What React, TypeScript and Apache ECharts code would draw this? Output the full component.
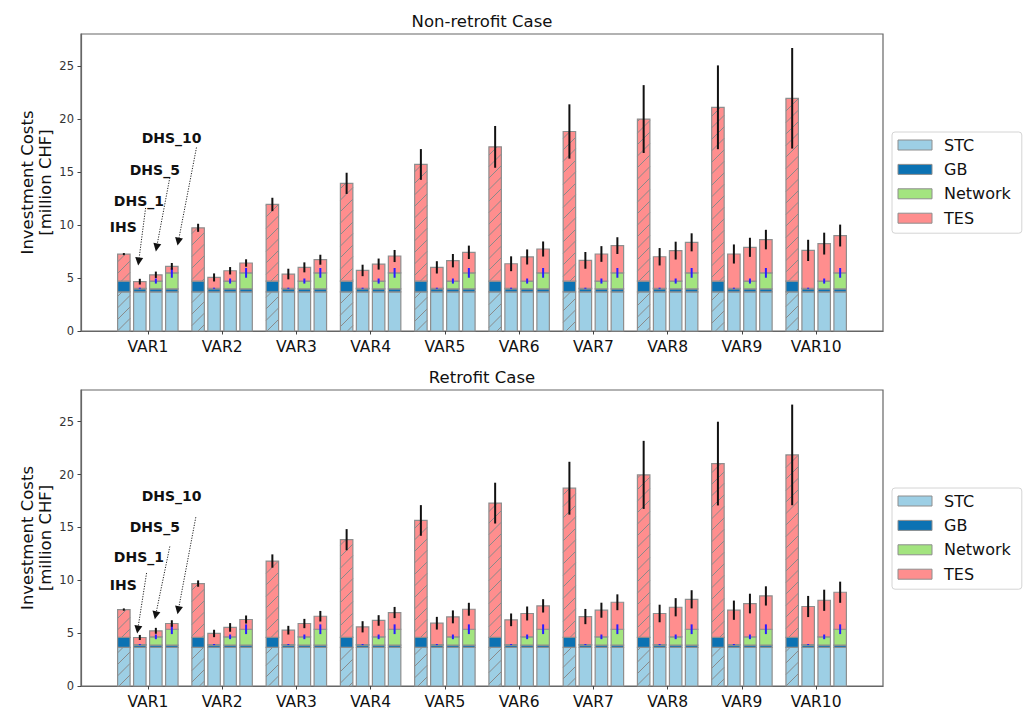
import React, { useEffect, useRef } from 'react';
import * as echarts from 'echarts';

// ---- categories and bar types ----
const categories = ['VAR1', 'VAR2', 'VAR3', 'VAR4', 'VAR5', 'VAR6', 'VAR7', 'VAR8', 'VAR9', 'VAR10'];
const barTypes = ['IHS', 'DHS_1', 'DHS_5', 'DHS_10'];
const components = ['STC', 'GB', 'Network', 'TES'];
const yTicks = [0, 5, 10, 15, 20, 25];

// ---- Non-retrofit case (million CHF) ----
// fixed parts per bar type: IHS, DHS_1, DHS_5, DHS_10
const stcNonRetrofit = [3.68, 3.68, 3.68, 3.68];
const gbNonRetrofit = [1.02, 0.3, 0.3, 0.3];
const networkNonRetrofit = [0, 0.05, 0.73, 1.5];
const networkErrNonRetrofit = [0, 0.05, 0.24, 0.46];
// TES per variant
const tesNonRetrofitIHS = [2.55, 5.03, 7.23, 9.22, 11.0, 12.66, 14.11, 15.28, 16.39, 17.24];
const tesNonRetrofitDHS1 = [0.62, 1.02, 1.34, 1.68, 1.97, 2.31, 2.63, 2.97, 3.23, 3.57];
const tesNonRetrofitDHS5 = [0.59, 0.97, 1.29, 1.6, 1.92, 2.27, 2.55, 2.87, 3.18, 3.53];
const tesNonRetrofitDHS10 = [0.61, 0.93, 1.24, 1.59, 1.94, 2.25, 2.57, 2.88, 3.14, 3.52];
// total cost uncertainty per variant
const errNonRetrofitIHS = [0.1, 0.38, 0.63, 1.0, 1.45, 1.97, 2.56, 3.2, 3.95, 4.74];
const errNonRetrofitDHS1 = [0.27, 0.38, 0.5, 0.54, 0.58, 0.7, 0.79, 0.82, 0.9, 1.0];
const errNonRetrofitDHS5 = [0.3, 0.35, 0.47, 0.52, 0.63, 0.71, 0.74, 0.84, 0.9, 1.03];
const errNonRetrofitDHS10 = [0.32, 0.35, 0.47, 0.57, 0.63, 0.71, 0.79, 0.85, 0.92, 1.03];

// ---- Retrofit case (million CHF) ----
const stcRetrofit = [3.65, 3.65, 3.65, 3.65];
const gbRetrofit = [0.95, 0.22, 0.22, 0.22];
const networkRetrofit = [0, 0.05, 0.78, 1.5];
const networkErrRetrofit = [0, 0.05, 0.22, 0.46];
const tesRetrofitIHS = [2.63, 5.09, 7.22, 9.24, 11.06, 12.7, 14.11, 15.37, 16.44, 17.26];
const tesRetrofitDHS1 = [0.67, 1.05, 1.36, 1.68, 2.02, 2.34, 2.65, 2.94, 3.25, 3.6];
const tesRetrofitDHS5 = [0.57, 0.89, 1.26, 1.55, 1.89, 2.21, 2.52, 2.8, 3.15, 3.46];
const tesRetrofitDHS10 = [0.54, 0.92, 1.23, 1.58, 1.89, 2.21, 2.55, 2.83, 3.15, 3.5];
const errRetrofitIHS = [0.11, 0.3, 0.63, 1.0, 1.45, 1.93, 2.5, 3.22, 3.96, 4.76];
const errRetrofitDHS1 = [0.24, 0.35, 0.41, 0.53, 0.6, 0.6, 0.72, 0.83, 0.91, 1.0];
const errRetrofitDHS5 = [0.28, 0.41, 0.44, 0.5, 0.61, 0.66, 0.71, 0.86, 0.93, 1.0];
const errRetrofitDHS10 = [0.31, 0.38, 0.5, 0.53, 0.61, 0.63, 0.75, 0.86, 0.91, 1.0];

// ---- annotation anchors: [textX, textY, arrowStartX, arrowStartY, tipX, tipY, hasArrow] ----
const annotationLabels = ['IHS', 'DHS_1', 'DHS_5', 'DHS_10'];
const annotationsNonRetrofit = [
  [-0.33, 9.8, 0, 0, 0, 0, 0],
  [-0.12, 12.3, -0.03, 11.6, -0.13, 6.18, 1],
  [0.094, 15.15, 0.296, 14.46, 0.108, 7.5, 1],
  [0.32, 18.2, 0.655, 17.3, 0.4, 8.05, 1],
];
const annotationsRetrofit = [
  [-0.33, 9.6, 0, 0, 0, 0, 0],
  [-0.12, 12.2, -0.017, 10.69, -0.144, 4.97, 1],
  [0.094, 15.0, 0.296, 13.2, 0.094, 6.32, 1],
  [0.32, 18.0, 0.646, 15.97, 0.4, 6.79, 1],
];

// ---- layout & style ----
const FONT = 'DejaVu Sans';
const BAR_OFFSETS = [-0.323, -0.108, 0.108, 0.323];
const BAR_WIDTH = 0.168;
const COLORS: Record<string, string> = {
  STC: '#9dcfe5',
  GB: '#0b72b3',
  Network: '#a3e47f',
  TES: '#ff8e8e',
};
const EDGE_COLOR = '#8e8e8e';
const HATCH_COLOR = '#8a8a8a';
const HATCH_STEP = 11.5;
const ERR_COLOR = '#111111';
const NET_ERR_COLOR = '#2b1cff';
const FRAME_COLOR = '#666666';

const GRIDS = [
  { left: 81, top: 34, width: 802, height: 297 },
  { left: 81, top: 390, width: 802, height: 296 },
];

type CaseData = {
  stc: number[];
  gb: number[];
  net: number[];
  netErr: number[];
  tes: number[][];
  err: number[][];
};

const cases: CaseData[] = [
  {
    stc: stcNonRetrofit,
    gb: gbNonRetrofit,
    net: networkNonRetrofit,
    netErr: networkErrNonRetrofit,
    tes: [tesNonRetrofitIHS, tesNonRetrofitDHS1, tesNonRetrofitDHS5, tesNonRetrofitDHS10],
    err: [errNonRetrofitIHS, errNonRetrofitDHS1, errNonRetrofitDHS5, errNonRetrofitDHS10],
  },
  {
    stc: stcRetrofit,
    gb: gbRetrofit,
    net: networkRetrofit,
    netErr: networkErrRetrofit,
    tes: [tesRetrofitIHS, tesRetrofitDHS1, tesRetrofitDHS5, tesRetrofitDHS10],
    err: [errRetrofitIHS, errRetrofitDHS1, errRetrofitDHS5, errRetrofitDHS10],
  },
];

// stacked segments [x, bottom, top, hatched] per component, plus error bars [x, centre, err, kind]
function buildStacks(d: CaseData) {
  const segs: Record<string, number[][]> = { STC: [], GB: [], Network: [], TES: [] };
  const errs: number[][] = [];
  categories.forEach((_, i) => {
    barTypes.forEach((_, t) => {
      const x = i + BAR_OFFSETS[t];
      const hatched = t === 0 ? 1 : 0;
      const s = d.stc[t];
      const g = s + d.gb[t];
      const n = g + d.net[t];
      const total = n + d.tes[t][i];
      segs.STC.push([x, 0, s, hatched]);
      segs.GB.push([x, s, g, 0]);
      segs.Network.push([x, g, n, hatched]);
      segs.TES.push([x, n, total, hatched]);
      if (d.netErr[t] > 0) errs.push([x, n, d.netErr[t], 1]);
      errs.push([x, total, d.err[t][i], 0]);
    });
  });
  return { segs, errs };
}

const renderSegment = (_params: any, api: any) => {
  const x = api.value(0);
  const y0 = api.value(1);
  const y1 = api.value(2);
  const hatched = api.value(3);
  if (!(y1 > y0)) return null;
  const tl = api.coord([x - BAR_WIDTH / 2, y1]);
  const br = api.coord([x + BAR_WIDTH / 2, y0]);
  const shape = { x: tl[0], y: tl[1], width: br[0] - tl[0], height: br[1] - tl[1] };
  const children: any[] = [{ type: 'rect', shape, style: { fill: api.visual('color') } }];
  if (hatched) {
    const x0 = shape.x;
    const x1 = shape.x + shape.width;
    const yt = shape.y;
    const yb = shape.y + shape.height;
    for (let c = Math.ceil((x0 + yt) / HATCH_STEP) * HATCH_STEP; c < x1 + yb; c += HATCH_STEP) {
      const xa = Math.max(x0, c - yb);
      const xb = Math.min(x1, c - yt);
      if (xb - xa > 0.4) {
        children.push({
          type: 'line',
          shape: { x1: xa, y1: c - xa, x2: xb, y2: c - xb },
          style: { stroke: HATCH_COLOR, lineWidth: 1 },
        });
      }
    }
  }
  children.push({ type: 'rect', shape, style: { fill: 'none', stroke: EDGE_COLOR, lineWidth: 1.2 } });
  return { type: 'group', children };
};

const renderError = (_params: any, api: any) => {
  const x = api.value(0);
  const c = api.value(1);
  const e = api.value(2);
  const kind = api.value(3);
  if (!(e > 0)) return null;
  const a = api.coord([x, c - e]);
  const b = api.coord([x, c + e]);
  return {
    type: 'line',
    shape: { x1: a[0], y1: a[1], x2: b[0], y2: b[1] },
    style: { stroke: kind ? NET_ERR_COLOR : ERR_COLOR, lineWidth: 2 },
  };
};

const renderAnnotation = (params: any, api: any) => {
  const label = annotationLabels[params.dataIndex];
  const tp = api.coord([api.value(0), api.value(1)]);
  const children: any[] = [
    {
      type: 'text',
      x: tp[0],
      y: tp[1],
      style: {
        text: label,
        align: 'center',
        verticalAlign: 'middle',
        fontFamily: FONT,
        fontSize: 14,
        fontWeight: 'bold',
        fill: '#111',
      },
    },
  ];
  if (api.value(6)) {
    const s = api.coord([api.value(2), api.value(3)]);
    const t = api.coord([api.value(4), api.value(5)]);
    const dx = t[0] - s[0];
    const dy = t[1] - s[1];
    const len = Math.sqrt(dx * dx + dy * dy);
    const ux = dx / len;
    const uy = dy / len;
    const headLen = 8;
    const half = 4;
    const bx = t[0] - ux * headLen;
    const by = t[1] - uy * headLen;
    children.push({
      type: 'line',
      shape: { x1: s[0], y1: s[1], x2: bx, y2: by },
      style: { stroke: '#222', lineWidth: 1, lineDash: [1.2, 1.4] },
    });
    children.push({
      type: 'polygon',
      shape: {
        points: [
          [t[0], t[1]],
          [bx - uy * half, by + ux * half],
          [bx + uy * half, by - ux * half],
        ],
      },
      style: { fill: '#111' },
    });
  }
  return { type: 'group', children };
};

function buildOption() {
  const xAxis: any[] = [];
  const yAxis: any[] = [];
  const series: any[] = [];
  const legend: any[] = [];
  const tickIdx = categories.map((_, i) => i);

  GRIDS.forEach((g, k) => {
    xAxis.push({
      type: 'value',
      gridIndex: k,
      min: -0.9,
      max: 9.9,
      axisLine: { show: true, onZero: false, lineStyle: { color: FRAME_COLOR, width: 1.2 } },
      axisTick: { show: true, customValues: tickIdx, length: 3.5, lineStyle: { color: '#444', width: 1 } },
      axisLabel: {
        show: true,
        customValues: tickIdx,
        formatter: (v: number) => categories[Math.round(v)] ?? '',
        fontFamily: FONT,
        fontSize: 15.5,
        color: '#111',
        margin: 8,
      },
      splitLine: { show: false },
    });
    yAxis.push({
      type: 'value',
      gridIndex: k,
      min: 0,
      max: 28,
      axisLine: { show: true, onZero: false, lineStyle: { color: FRAME_COLOR, width: 1.2 } },
      axisTick: { show: true, customValues: yTicks, length: 3.5, lineStyle: { color: '#444', width: 1 } },
      axisLabel: {
        show: true,
        customValues: yTicks,
        fontFamily: FONT,
        fontSize: 11.5,
        color: '#333',
        margin: 7,
      },
      splitLine: { show: false },
    });

    const { segs, errs } = buildStacks(cases[k]);
    components.forEach((name) => {
      series.push({
        type: 'custom',
        name,
        xAxisIndex: k,
        yAxisIndex: k,
        itemStyle: { color: COLORS[name] },
        renderItem: renderSegment,
        data: segs[name],
        silent: true,
      });
    });
    series.push({
      type: 'custom',
      name: 'errors',
      xAxisIndex: k,
      yAxisIndex: k,
      renderItem: renderError,
      data: errs,
      silent: true,
      z: 3,
    });
    series.push({
      type: 'custom',
      name: 'annotations',
      xAxisIndex: k,
      yAxisIndex: k,
      renderItem: renderAnnotation,
      data: k === 0 ? annotationsNonRetrofit : annotationsRetrofit,
      silent: true,
      clip: false,
      z: 4,
    });

    legend.push({
      data: components,
      orient: 'vertical',
      left: 892,
      top: g.top + 98,
      icon: 'rect',
      itemWidth: 34,
      itemHeight: 10,
      itemGap: 8.4,
      padding: [5, 11, 7, 5.5],
      borderColor: '#d4d4d4',
      borderWidth: 1,
      borderRadius: 3,
      selectedMode: false,
      itemStyle: { borderColor: EDGE_COLOR, borderWidth: 1 },
      textStyle: { fontFamily: FONT, fontSize: 16, color: '#111', lineHeight: 16, padding: [0, 0, 0, 7] },
    });
  });

  const titleY = [21, 377];
  const graphic: any[] = [];
  ['Non-retrofit Case', 'Retrofit Case'].forEach((t, k) => {
    const g = GRIDS[k];
    graphic.push({
      type: 'text',
      x: g.left + g.width / 2,
      y: titleY[k],
      style: { text: t, align: 'center', verticalAlign: 'middle', fontFamily: FONT, fontSize: 16.5, fill: '#111' },
    });
    graphic.push({
      type: 'text',
      x: 36.5,
      y: g.top + g.height / 2,
      rotation: Math.PI / 2,
      style: {
        text: 'Investment Costs\n[million CHF]',
        align: 'center',
        verticalAlign: 'middle',
        fontFamily: FONT,
        fontSize: 16.5,
        lineHeight: 18.5,
        fill: '#111',
      },
    });
  });

  return {
    animation: false,
    backgroundColor: '#ffffff',
    grid: GRIDS.map((g) => ({
      ...g,
      show: true,
      borderColor: FRAME_COLOR,
      borderWidth: 1.2,
      backgroundColor: 'transparent',
      containLabel: false,
    })),
    xAxis,
    yAxis,
    legend,
    series,
    graphic,
  };
}

export default function App() {
  const ref = useRef<HTMLDivElement>(null);
  useEffect(() => {
    if (!ref.current) return;
    const chart = echarts.init(ref.current, undefined, { renderer: 'svg' });
    chart.setOption(buildOption() as any);
    return () => chart.dispose();
  }, []);
  return <div ref={ref} style={{ position: 'fixed', left: 0, top: 0, width: 1027, height: 711 }} />;
}
